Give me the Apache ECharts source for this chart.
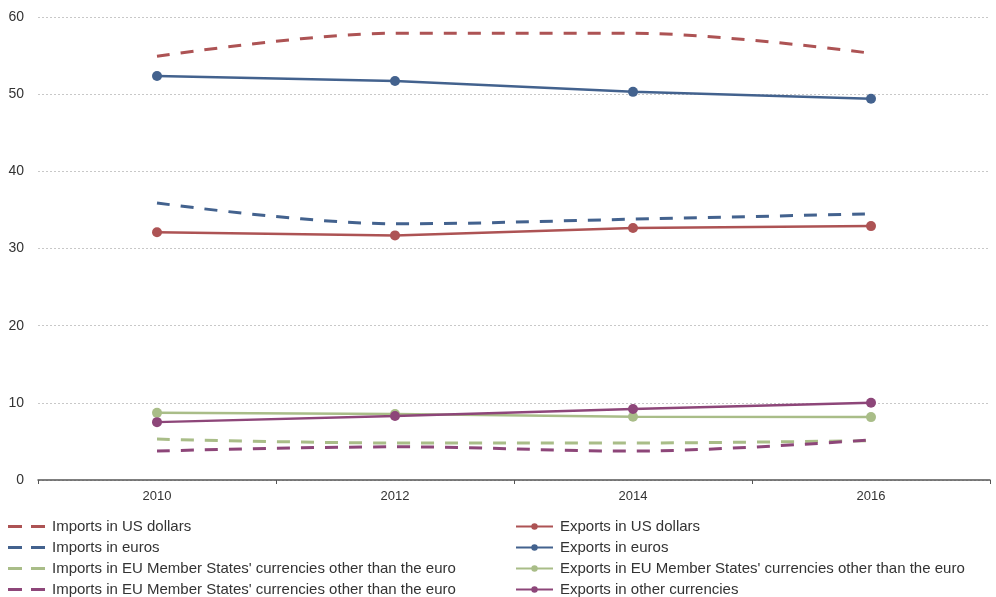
<!DOCTYPE html>
<html><head><meta charset="utf-8">
<script src="https://cdn.jsdelivr.net/npm/echarts@6/dist/echarts.min.js"></script>
<style>html,body{margin:0;padding:0;background:#fff}#c{width:996px;height:597px}</style>
</head><body><div id="c"></div>
<script>
const years = ['2010','2012','2014','2016'];
const importsUSD = [54.9, 57.9, 57.9, 55.3];
const importsEUR = [35.9, 33.2, 33.8, 34.5];
const importsEUOther = [5.3, 4.8, 4.8, 5.1];
const importsOther = [3.75, 4.3, 3.75, 5.2];
const exportsUSD = [32.1, 31.7, 32.65, 32.9];
const exportsEUR = [52.35, 51.7, 50.3, 49.4];
const exportsEUOther = [8.7, 8.55, 8.2, 8.15];
const exportsOther = [7.5, 8.3, 9.2, 10.0];
const yTicks = [0, 10, 20, 30, 40, 50, 60];

const RED = '#ad5354', BLUE = '#43628e', GREEN = '#a9bd88', PURPLE = '#8d4679';
const names = {
  iUSD: 'Imports in US dollars',
  iEUR: 'Imports in euros',
  iEUO: "Imports in EU Member States' currencies other than the euro",
  iOth: "Imports in EU Member States' currencies other than the euro\u200b",
  eUSD: 'Exports in US dollars',
  eEUR: 'Exports in euros',
  eEUO: "Exports in EU Member States' currencies other than the euro",
  eOth: 'Exports in other currencies'
};
function dashed(name, data, color) {
  return { name, type: 'line', data, smooth: 0.35, symbol: 'none', z: 2,
    lineStyle: { color, width: 3, type: [13, 11] }, itemStyle: { color } };
}
function solid(name, data, color) {
  return { name, type: 'line', data, symbol: 'circle', symbolSize: 10, z: 3,
    lineStyle: { color, width: 2.5 }, itemStyle: { color } };
}
const dashIcon = 'path://M0,0H14V3H0ZM23,0H37V3H23Z';
const chart = echarts.init(document.getElementById('c'));
const legendText = { fontFamily: 'Liberation Sans, Arial, sans-serif', fontSize: 15, color: '#333', lineHeight: 17, padding: [0, 0, 0, 2] };
chart.setOption({
  animation: false,
  grid: { left: 38, right: 6, top: 17, bottom: 117 },
  xAxis: {
    type: 'category', data: years, boundaryGap: true,
    axisLine: { lineStyle: { color: '#555', width: 1.5 } },
    axisTick: { show: true, length: 4, lineStyle: { color: '#555' } },
    axisLabel: { color: '#333', fontFamily: 'Liberation Sans, Arial, sans-serif', fontSize: 13, margin: 10 }
  },
  yAxis: {
    type: 'value', min: yTicks[0], max: yTicks[yTicks.length - 1], interval: 10,
    axisLine: { show: false }, axisTick: { show: false },
    axisLabel: { color: '#333', fontFamily: 'Liberation Sans, Arial, sans-serif', fontSize: 14, margin: 14 },
    splitLine: { lineStyle: { color: '#c8c8c8', type: [2, 2], width: 1 } }
  },
  legend: [
    { orient: 'vertical', left: 8, top: 518, height: 82, padding: 0, itemWidth: 37, itemHeight: 3, itemGap: 4,
      selectedMode: false, textStyle: legendText, icon: dashIcon,
      data: [names.iUSD, names.iEUR, names.iEUO, names.iOth] },
    { orient: 'vertical', left: 515, top: 518, height: 82, padding: 0, itemWidth: 37, itemHeight: 8, itemGap: 4,
      selectedMode: false, textStyle: legendText,
      data: [names.eUSD, names.eEUR, names.eEUO, names.eOth] }
  ],
  series: [
    dashed(names.iUSD, importsUSD, RED),
    dashed(names.iEUR, importsEUR, BLUE),
    dashed(names.iEUO, importsEUOther, GREEN),
    dashed(names.iOth, importsOther, PURPLE),
    solid(names.eUSD, exportsUSD, RED),
    solid(names.eEUR, exportsEUR, BLUE),
    solid(names.eEUO, exportsEUOther, GREEN),
    solid(names.eOth, exportsOther, PURPLE)
  ]
});
</script>
</body></html>
